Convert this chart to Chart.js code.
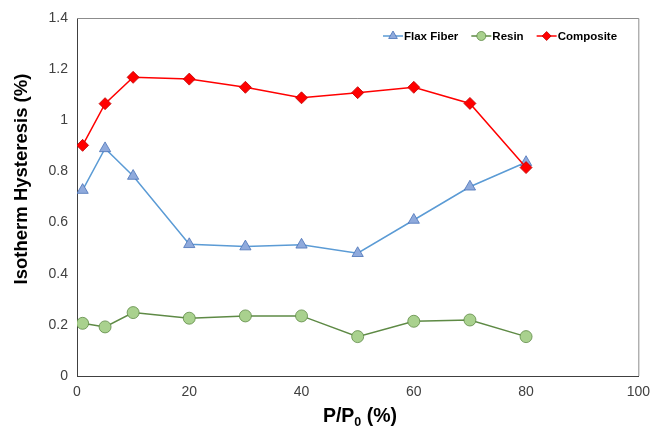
<!DOCTYPE html>
<html><head><meta charset="utf-8">
<script src="https://cdn.jsdelivr.net/npm/chart.js@4.4.0/dist/chart.umd.min.js"></script>
<style>html,body{margin:0;padding:0;background:#fff}#wrap{width:653px;height:426px}</style>
</head><body><div id="wrap"><canvas id="c" width="653" height="426"></canvas></div>
<script>
const pressures = [1, 5, 10, 20, 30, 40, 50, 60, 70, 80];
const flaxFiber = [0.727, 0.890, 0.782, 0.515, 0.506, 0.513, 0.480, 0.610, 0.740, 0.836];
const resin     = [0.206, 0.192, 0.248, 0.226, 0.235, 0.235, 0.154, 0.214, 0.219, 0.154];
const composite = [0.902, 1.065, 1.168, 1.161, 1.129, 1.088, 1.108, 1.129, 1.066, 0.815];
const seriesNames = ['Flax Fiber', 'Resin', 'Composite'];
const xTicks = [0, 20, 40, 60, 80, 100];
const yTicks = [0, 0.2, 0.4, 0.6, 0.8, 1, 1.2, 1.4];
const yTitle = 'Isotherm Hysteresis (%)';
const xTitleMain = 'P/P', xTitleSub = '0', xTitleEnd = ' (%)';

const pts = arr => arr.map((v, i) => ({x: pressures[i], y: v}));
const styles = [
  {line: '#5B9BD5', fill: '#8FAADC', border: '#4A72B8', shape: 'triangle', r: 6.5},
  {line: '#5E8A45', fill: '#A9D18E', border: '#5E8A45', shape: 'circle', r: 6},
  {line: '#FF0000', fill: '#FF0000', border: '#C00000', shape: 'rectRot', r: 6}
];
const values = [flaxFiber, resin, composite];

const decor = {
  id: 'decor',
  afterDraw(chart) {
    const ctx = chart.ctx, a = chart.chartArea;
    ctx.save();
    // plot frame top/right
    ctx.strokeStyle = '#8C8C8C'; ctx.lineWidth = 1;
    ctx.beginPath();
    ctx.moveTo(a.left, a.top + 0.5); ctx.lineTo(a.right + 0.5, a.top + 0.5); ctx.lineTo(a.right + 0.5, a.bottom);
    ctx.stroke();
    // y title
    ctx.fillStyle = '#000';
    ctx.font = 'bold 18.5px "Liberation Sans", Arial, sans-serif';
    ctx.textAlign = 'center'; ctx.textBaseline = 'middle';
    ctx.translate(22, 179);
    ctx.rotate(-Math.PI / 2);
    ctx.fillText(yTitle, 0, 0);
    ctx.restore();
    // x title with subscript
    ctx.save();
    ctx.fillStyle = '#000'; ctx.textBaseline = 'alphabetic';
    const big = 'bold 19.5px "Liberation Sans", Arial, sans-serif';
    const small = 'bold 12.5px "Liberation Sans", Arial, sans-serif';
    ctx.font = big; const w1 = ctx.measureText(xTitleMain).width, w3 = ctx.measureText(xTitleEnd).width;
    ctx.font = small; const w2 = ctx.measureText(xTitleSub).width;
    const total = w1 + w2 + w3;
    let x = 360 - total / 2;
    const y = 422;
    ctx.textAlign = 'left';
    ctx.font = big; ctx.fillText(xTitleMain, x, y); x += w1;
    ctx.font = small; ctx.fillText(xTitleSub, x, y + 4); x += w2;
    ctx.font = big; ctx.fillText(xTitleEnd, x, y);
    // legend
    ctx.font = 'bold 11.5px "Liberation Sans", Arial, sans-serif';
    ctx.textBaseline = 'middle';
    const ly = 36;
    let lx = 383;
    seriesNames.forEach((name, i) => {
      const s = styles[i];
      ctx.strokeStyle = s.line; ctx.lineWidth = 1.5;
      ctx.beginPath(); ctx.moveTo(lx, ly); ctx.lineTo(lx + 20, ly); ctx.stroke();
      ctx.fillStyle = s.fill; ctx.strokeStyle = s.border;
      ctx.lineWidth = 0.8;
      Chart.helpers.drawPoint(ctx, {pointStyle: s.shape, radius: s.shape === 'triangle' ? 5 : 4.5, borderWidth: 0.8}, lx + 10, ly);
      ctx.fillStyle = '#000';
      ctx.fillText(name, lx + 21, ly + 0.5);
      lx += 21 + ctx.measureText(name).width + 13;
    });
    ctx.restore();
  }
};

new Chart(document.getElementById('c'), {
  type: 'line',
  data: {
    datasets: seriesNames.map((n, i) => ({
      label: n,
      data: pts(values[i]),
      borderColor: styles[i].line,
      borderWidth: 1.5,
      backgroundColor: styles[i].fill,
      pointBackgroundColor: styles[i].fill,
      pointBorderColor: styles[i].border,
      pointBorderWidth: 0.8,
      pointStyle: styles[i].shape,
      pointRadius: styles[i].r,
      tension: 0
    })).reverse()
  },
  options: {
    responsive: false, animation: false,
    layout: {padding: {left: 0, top: 18, right: 14, bottom: 0}},
    plugins: {legend: {display: false}, tooltip: {enabled: false}},
    scales: {
      x: {
        type: 'linear', min: 0, max: 100,
        afterBuildTicks: s => { s.ticks = xTicks.map(v => ({value: v})); },
        afterFit: s => { s.height = 50; },
        grid: {display: false, drawTicks: true, tickLength: 5, color: '#404040'},
        border: {display: true, color: '#404040', width: 1},
        ticks: {color: '#404040', font: {family: '"Liberation Sans", Arial', size: 14}, padding: 3, maxRotation: 0}
      },
      y: {
        min: 0, max: 1.4,
        afterBuildTicks: s => { s.ticks = yTicks.map(v => ({value: v})); },
        afterFit: s => { s.width = 77; },
        grid: {display: false, drawTicks: true, tickLength: 5, color: '#404040'},
        border: {display: true, color: '#404040', width: 1},
        ticks: {color: '#404040', font: {family: '"Liberation Sans", Arial', size: 14}, padding: 4,
          callback: v => String(Math.round(v * 10) / 10)}
      }
    }
  },
  plugins: [decor]
});
</script></body></html>
